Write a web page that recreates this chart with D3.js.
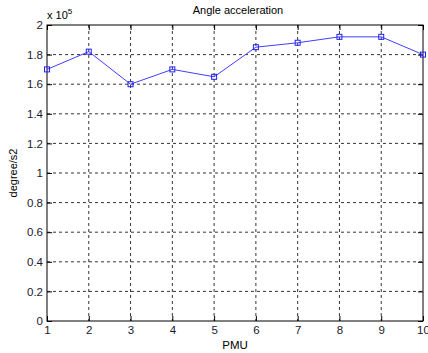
<!DOCTYPE html>
<html>
<head>
<meta charset="utf-8">
<script src="https://cdn.jsdelivr.net/npm/d3@7"></script>
<style>
  body { margin: 0; background: #fff; }
  text { font-family: "Liberation Sans", Arial, sans-serif; }
</style>
</head>
<body>
<div id="chart"></div>
<script>
// data (values x 10^5)
var pmu = [1, 2, 3, 4, 5, 6, 7, 8, 9, 10]
var accel = [1.70, 1.82, 1.60, 1.70, 1.65, 1.85, 1.88, 1.92, 1.92, 1.80]
var yTicks = [0, 0.2, 0.4, 0.6, 0.8, 1, 1.2, 1.4, 1.6, 1.8, 2]

var W = 428, H = 353
var margin = { top: 25, right: 5, bottom: 32, left: 47 }
var w = W - margin.left - margin.right
var h = H - margin.top - margin.bottom

var svg = d3.select('#chart').append('svg')
  .attr('width', W)
  .attr('height', H)

var g = svg.append('g')
  .attr('transform', 'translate(' + margin.left + ',' + margin.top + ')')

var x = d3.scaleLinear().domain([1, 10]).range([0, w])
var y = d3.scaleLinear().domain([0, 2]).range([h, 0])

// grid
g.selectAll('.vgrid')
  .data(pmu.slice(1, -1))
  .enter().append('line')
  .attr('x1', function(d) { return x(d) })
  .attr('x2', function(d) { return x(d) })
  .attr('y1', 0)
  .attr('y2', h)
  .attr('stroke', '#000')
  .attr('stroke-dasharray', '3,3')
  .attr('stroke-width', 0.8)

g.selectAll('.hgrid')
  .data(yTicks.slice(1, -1))
  .enter().append('line')
  .attr('x1', 0)
  .attr('x2', w)
  .attr('y1', function(d) { return y(d) })
  .attr('y2', function(d) { return y(d) })
  .attr('stroke', '#000')
  .attr('stroke-dasharray', '3,3')
  .attr('stroke-width', 0.8)

// axes
var xAxis = d3.axisBottom(x).tickValues(pmu).tickSizeInner(-5).tickSizeOuter(0).tickPadding(5)
var yAxis = d3.axisLeft(y).tickValues(yTicks).tickSizeInner(-5).tickSizeOuter(0).tickPadding(4)
  .tickFormat(function(d) { return d3.format('~g')(d) })

g.append('g').attr('transform', 'translate(0,' + h + ')').call(xAxis)
g.append('g').call(yAxis)
// ticks on top and right too
g.append('g').call(d3.axisTop(x).tickValues(pmu).tickSizeInner(-5).tickSizeOuter(0).tickFormat(''))
g.append('g').attr('transform', 'translate(' + w + ',0)')
  .call(d3.axisRight(y).tickValues(yTicks).tickSizeInner(-5).tickSizeOuter(0).tickFormat(''))

svg.selectAll('.domain').remove()
svg.selectAll('.tick line').attr('stroke', '#000')
svg.selectAll('.tick text').attr('fill', '#1a1a2e').style('font-size', '11.5px')

g.append('rect')
  .attr('width', w)
  .attr('height', h)
  .attr('fill', 'none')
  .attr('stroke', '#000')
  .attr('stroke-width', 1)

// line
var line = d3.line()
  .x(function(d, i) { return x(pmu[i]) })
  .y(function(d) { return y(d) })

g.append('path')
  .datum(accel)
  .attr('d', line)
  .attr('fill', 'none')
  .attr('stroke', '#4040ff')
  .attr('stroke-width', 1)

g.selectAll('.pt')
  .data(accel)
  .enter().append('rect')
  .attr('x', function(d, i) { return x(pmu[i]) - 2.5 })
  .attr('y', function(d) { return y(d) - 2.5 })
  .attr('width', 5)
  .attr('height', 5)
  .attr('fill', 'none')
  .attr('stroke', '#2020ff')
  .attr('stroke-width', 1)

// labels
svg.append('text')
  .attr('x', margin.left + w / 2 + 3)
  .attr('y', 14)
  .attr('text-anchor', 'middle')
  .style('font-size', '11px')
  .text('Angle acceleration')

svg.append('text')
  .attr('x', margin.left + w / 2)
  .attr('y', 349)
  .attr('text-anchor', 'middle')
  .style('font-size', '11.5px')
  .text('PMU')

svg.append('text')
  .attr('transform', 'translate(17,' + (margin.top + h / 2) + ') rotate(-90)')
  .attr('text-anchor', 'middle')
  .style('font-size', '11px')
  .text('degree/s2')

var mult = svg.append('text')
  .attr('x', 47)
  .attr('y', 19)
  .style('font-size', '11px')
mult.append('tspan').text('x 10')
mult.append('tspan').attr('dy', -5).style('font-size', '8px').text('5')
</script>
</body>
</html>
